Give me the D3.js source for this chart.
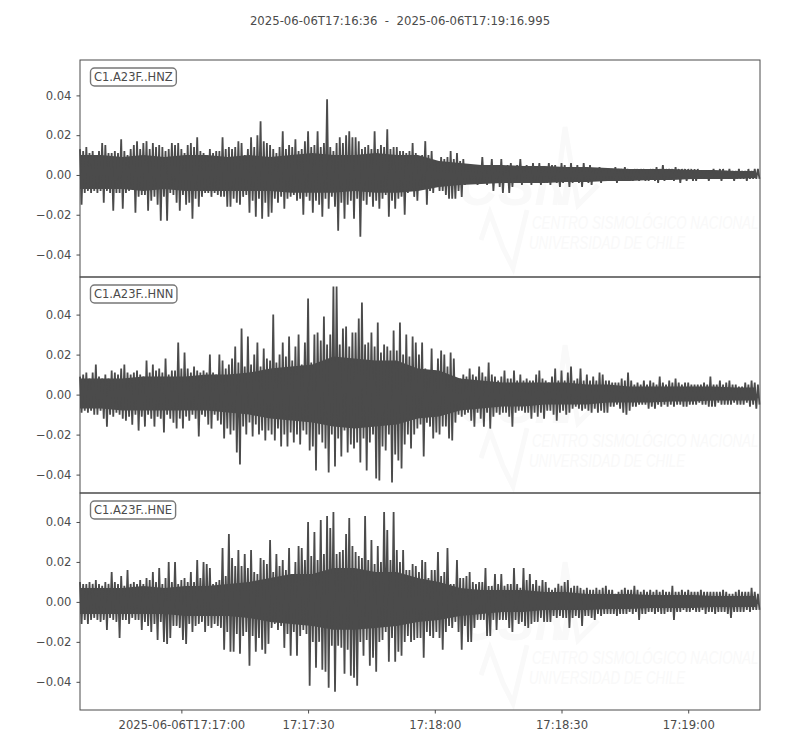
<!DOCTYPE html>
<html>
<head>
<meta charset="utf-8">
<script src="https://cdn.jsdelivr.net/npm/d3@7"></script>
<style>
  html, body { margin: 0; padding: 0; background: #fff; }
  svg { display: block; }
  text { font-family: "DejaVu Sans", sans-serif; }
</style>
</head>
<body>
<div id="chart"></div>
<script>
// peaks, one up/down pair every 0.75 s, unit 1e-3
const hnzUp = [
  13,12,14,11,12,10,12,16,15,11, 11,12,11,18,12,10,13,15,17,13,
  16,17,13,16,14,15,14,12,13,16, 15,16,13,11,15,16,14,19,12,11,
  10,13,11,12,12,19,13,14,13,14, 17,16,10,13,19,14,20,27,17,16,
  15,13,11,14,22,13,15,14,18,12, 13,17,22,14,15,22,14,16,38,14,
  12,16,19,16,20,22,19,19,17,13, 14,15,13,22,13,15,14,23,13,14,
  14,12,12,11,12,16,11,
  8,10,17,10,12,7,7,9,8,9, 12,8,11,7,8,5,5,4,5,4,
  9,4,5,8,4,5,8,4,5,6, 4,5,8,4,5,4,6,4,6,4,
  4,6,5,5,4,6,5,4,6,4, 5,4,6,4,5,3,3,4,3,3,
  3,3,4,3,3,4,3,3,3,3, 3,3,3,3,3,4,3,5,3,3,
  3,4,3,3,3,3,3,3,3,2, 2,2,2,3,2,3,3,2,3,2,
  2,3,2,2,3,2,3,3
];
const hnzLow = [
  -15,-9,-8,-9,-8,-9,-8,-14,-8,-9, -18,-9,-9,-17,-9,-8,-7,-19,-11,-10,
  -10,-18,-13,-11,-15,-23,-11,-23,-9,-10, -14,-18,-10,-15,-14,-22,-12,-16,-11,-9,
  -9,-11,-9,-10,-11,-11,-16,-16,-12,-14, -15,-11,-10,-19,-13,-21,-12,-22,-14,-21,
  -19,-12,-14,-11,-17,-12,-11,-10,-13,-12, -20,-11,-13,-19,-13,-15,-21,-12,-17,-11,
  -16,-28,-14,-22,-15,-13,-22,-12,-31,-13, -15,-11,-16,-13,-17,-12,-10,-21,-13,-17,
  -12,-11,-20,-9,-8,-11,-13,
  -7,-6,-15,-8,-9,-6,-8,-8,-10,-12, -12,-12,-8,-11,-5,-4,-3,-4,-5,-4,
  -4,-5,-4,-8,-4,-6,-9,-4,-9,-6, -3,-4,-5,-3,-4,-5,-4,-3,-5,-3,
  -4,-5,-3,-4,-6,-4,-3,-6,-4,-3, -4,-6,-3,-4,-5,-3,-3,-4,-2,-3,
  -2,-3,-4,-2,-3,-2,-3,-3,-2,-3, -2,-3,-3,-2,-3,-4,-2,-3,-2,-2,
  -3,-2,-4,-2,-3,-2,-3,-3,-2,-2, -2,-3,-2,-2,-2,-3,-2,-2,-2,-3,
  -2,-2,-2,-3,-2,-2,-2,-2
];
const hnnUp = [
  9,10,11,8,11,15,9,8,10,8, 12,11,10,13,15,11,10,11,12,10,
  9,17,11,15,12,13,11,18,10,12, 12,26,13,21,13,11,14,12,11,12,
  11,20,11,10,20,17,13,15,18,24, 16,33,14,29,15,20,26,14,23,18,
  17,40,16,20,26,19,29,17,24,30, 15,26,48,16,30,31,27,39,25,30,
  54,54,25,33,34,24,31,31,38,46, 25,26,31,24,36,21,25,24,22,32,
  22,36,20,30,19,29,26,
  20,26,13,12,23,12,18,22,20,14, 21,18,7,8,10,9,13,10,9,14,
  11,9,16,10,9,7,9,12,8,8, 12,7,10,7,8,7,7,10,12,8,
  7,6,9,13,7,12,7,11,14,7, 8,13,7,10,7,9,7,11,10,7,
  7,6,6,6,8,7,11,7,5,6, 5,7,5,7,6,5,9,6,5,7,
  6,8,6,5,6,6,5,5,5,5, 6,5,9,5,5,7,5,6,7,5,
  5,4,4,6,5,7,6,5
];
const hnnLow = [
  -9,-8,-9,-8,-10,-10,-8,-12,-16,-10, -11,-9,-10,-12,-13,-11,-15,-10,-18,-11,
  -16,-10,-12,-16,-11,-12,-19,-10,-12,-14, -17,-12,-17,-11,-13,-10,-12,-21,-10,-11,
  -15,-17,-10,-13,-15,-22,-17,-20,-18,-29, -35,-16,-20,-14,-21,-15,-20,-18,-23,-18,
  -20,-23,-17,-26,-20,-26,-19,-24,-20,-25, -18,-20,-28,-26,-38,-20,-24,-27,-39,-20,
  -36,-22,-31,-18,-29,-25,-27,-24,-34,-22, -38,-24,-20,-42,-43,-26,-28,-20,-44,-30,
  -33,-37,-25,-20,-27,-20,-17,
  -15,-31,-14,-16,-22,-19,-20,-16,-16,-22, -23,-14,-10,-11,-10,-9,-13,-16,-9,-12,
  -16,-9,-17,-11,-9,-10,-9,-9,-11,-16, -9,-8,-8,-9,-9,-12,-9,-11,-9,-12,
  -8,-8,-10,-13,-9,-8,-10,-9,-7,-6, -7,-8,-7,-8,-9,-7,-9,-8,-9,-9,
  -6,-6,-5,-7,-9,-10,-8,-6,-6,-5, -5,-5,-7,-6,-7,-5,-6,-5,-6,-5,
  -6,-5,-5,-6,-6,-5,-5,-5,-4,-5, -5,-6,-6,-6,-4,-5,-5,-5,-5,-4,
  -5,-5,-5,-4,-6,-5,-7,-5
];
const hneUp = [
  10,9,9,10,9,11,9,8,10,9, 15,10,9,13,8,16,9,10,9,11,
  9,12,11,15,10,17,9,12,20,10, 20,9,11,12,10,15,10,21,12,20,
  19,17,9,10,11,27,13,34,22,18, 26,18,24,17,26,15,14,22,21,19,
  31,15,24,18,21,16,27,14,20,28, 27,21,40,23,35,21,41,24,43,37,
  45,24,25,26,34,42,28,25,23,22, 43,21,31,19,28,20,45,36,21,45,
  26,20,26,16,16,19,18,
  15,21,20,12,16,16,25,13,15,27, 9,9,21,12,12,13,15,10,9,10,
  10,17,8,8,14,9,14,8,9,9, 17,9,7,17,11,14,9,11,8,11,
  10,7,6,7,9,8,10,11,7,8, 8,7,6,7,6,6,7,6,7,8,
  6,6,4,5,6,7,6,6,8,6, 5,6,5,6,5,6,5,6,5,5,
  8,5,5,6,5,6,5,5,5,6, 5,5,5,5,5,5,6,5,4,4,
  5,6,5,5,5,7,5,4
];
const hneLow = [
  -11,-9,-11,-9,-8,-9,-10,-9,-14,-8, -9,-10,-18,-9,-9,-11,-8,-9,-9,-14,
  -10,-12,-15,-11,-19,-10,-20,-21,-18,-12, -12,-13,-19,-21,-11,-15,-12,-11,-10,-15,
  -12,-13,-11,-12,-13,-24,-15,-25,-25,-16, -26,-17,-15,-32,-17,-25,-18,-24,-26,-21,
  -13,-11,-14,-12,-23,-16,-27,-15,-27,-17, -14,-16,-42,-20,-33,-20,-34,-35,-43,-22,
  -45,-22,-23,-36,-24,-37,-38,-42,-20,-27, -19,-32,-28,-35,-20,-19,-15,-30,-18,-30,
  -25,-27,-20,-17,-20,-19,-18,
  -18,-28,-15,-17,-18,-15,-18,-24,-15,-12, -13,-10,-15,-24,-12,-20,-20,-13,-9,-9,
  -9,-17,-17,-9,-14,-9,-9,-9,-13,-15, -9,-11,-10,-12,-13,-11,-10,-10,-8,-10,
  -10,-10,-7,-8,-7,-8,-8,-13,-8,-7, -8,-12,-7,-7,-8,-9,-6,-7,-6,-6,
  -6,-6,-7,-6,-6,-6,-5,-6,-5,-9, -6,-6,-5,-5,-6,-5,-6,-6,-5,-5,
  -9,-5,-5,-4,-5,-5,-4,-5,-5,-4, -6,-5,-5,-6,-5,-5,-5,-6,-8,-5,
  -5,-5,-5,-4,-5,-4,-4,-4
];
// solid middle of each trace, one value every 5 s, unit 1e-3
const hnzCoreUp = [10,10,9,10,9,10,10,9,10,9,10,11,10,10,11,10,10,7,6,5,5,4.5,4.5,4,4,3.5,3,3,3,2.5,2.5,2,2];
const hnzCoreLow = [-7,-7,-7,-8,-7,-8,-8,-8,-8,-8,-9,-9,-9,-8,-9,-9,-8,-6,-5,-4.5,-4,-4,-4,-3.5,-3.5,-3,-3,-2.5,-2.5,-2,-2,-2,-1.5];
const hnnCoreUp = [8,8,8,9,9,9,10,10,11,13,14,15,19,18,17,17,13,12,8,7,6,6,6,6,5,5,4,4,4,4,4,3.5,3.5];
const hnnCoreLow = [-7,-7,-8,-8,-8,-8,-8,-9,-10,-12,-13,-14,-16,-17,-16,-15,-12,-11,-8,-7,-6,-6,-5,-5,-5,-4,-4,-4,-3.5,-3.5,-3,-3,-3];
const hneCoreUp = [7,7,7,8,7,8,8,9,10,12,14,14,17,17,15,15,12,10,7,6,6,6,5,5,4,4,4,3.5,3.5,3.5,3,3,3];
const hneCoreLow = [-6,-6,-6,-6,-6,-7,-7,-7,-8,-10,-11,-12,-14,-14,-13,-12,-10,-9,-7,-6,-5,-5,-4,-4,-4,-3.5,-3.5,-3,-3,-3,-2.5,-2.5,-2.5];

const traceLabels = ['C1.A23F..HNZ', 'C1.A23F..HNN', 'C1.A23F..HNE'];
const yTickValues = [-0.04, -0.02, 0, 0.02, 0.04];
const xTickTimes = ['2025-06-06T17:17:00', '2025-06-06T17:17:30', '2025-06-06T17:18:00', '2025-06-06T17:18:30', '2025-06-06T17:19:00'];
const titleText = '2025-06-06T17:16:36  -  2025-06-06T17:19:16.995';

const ink = '#4b4b4b';
const stepMs = 750;
const coreStepMs = 5000;
const t0 = Date.UTC(2025, 5, 6, 17, 16, 36);
const t1 = t0 + 160995;
const width = 800, height = 750;

const panels = [
  { up: hnzUp, low: hnzLow, coreUp: hnzCoreUp, coreLow: hnzCoreLow, top: 60, bottom: 277, dom: [-0.0513, 0.0578] },
  { up: hnnUp, low: hnnLow, coreUp: hnnCoreUp, coreLow: hnnCoreLow, top: 277, bottom: 493, dom: [-0.0492, 0.0588] },
  { up: hneUp, low: hneLow, coreUp: hneCoreUp, coreLow: hneCoreLow, top: 493, bottom: 710, dom: [-0.0541, 0.0545] }
];

const x = d3.scaleUtc().domain([t0, t1]).range([80, 760]);
const svg = d3.select('#chart').append('svg').attr('width', width).attr('height', height);

svg.append('text')
  .attr('x', 400).attr('y', 25)
  .attr('text-anchor', 'middle')
  .attr('font-size', 11.7)
  .attr('fill', ink)
  .style('white-space', 'pre')
  .text(titleText);

const clean = g => {
  g.select('.domain').remove();
  g.selectAll('.tick line').attr('stroke', ink);
  g.selectAll('.tick text').attr('fill', ink).attr('font-size', 11.6).style('font-family', '"DejaVu Sans"');
};

// faint agency logo, sits behind each trace
const watermark = (g, dy) => {
  const w = g.append('g').attr('transform', `translate(0,${dy})`).attr('fill', '#f9f9f9');
  w.append('text').attr('transform', 'translate(458,205) scale(0.95,1)').attr('font-size', 58).attr('font-weight', 'bold')
    .attr('font-style', 'italic').style('font-family', '"Liberation Sans"').text('CSN');
  w.append('path').attr('fill', 'none').attr('stroke', '#f9f9f9').attr('stroke-width', 5)
    .attr('d', 'M555,205L565,127L578,205L598,185');
  w.append('path').attr('fill', 'none').attr('stroke', '#f9f9f9').attr('stroke-width', 5)
    .attr('d', 'M481,240L490,213L503,248L513,268L527,210');
  w.append('text').attr('transform', 'translate(532,229) scale(0.74,1)').attr('font-size', 18).attr('font-style', 'italic')
    .style('font-family', '"Liberation Sans"').text('CENTRO SISMOLÓGICO NACIONAL');
  w.append('text').attr('transform', 'translate(529,249) scale(0.74,1)').attr('font-size', 18).attr('font-style', 'italic')
    .style('font-family', '"Liberation Sans"').text('UNIVERSIDAD DE CHILE');
};

panels.forEach((p, idx) => {
  const g = svg.append('g');
  const y = d3.scaleLinear().domain(p.dom).range([p.bottom, p.top]);

  g.call(watermark, (p.top - 60) * 1.005);

  const core = d3.area()
    .x((d, i) => x(t0 + i * coreStepMs))
    .y0((d, i) => y(p.coreLow[i] * 1e-3))
    .y1(d => y(d * 1e-3));
  g.append('path').datum(p.coreUp).attr('fill', ink).attr('d', core);

  // zigzag: up peak then down peak half a step later
  const pts = p.up.flatMap((v, i) => [
    [t0 + i * stepMs, v * 1e-3],
    [t0 + (i + 0.5) * stepMs, p.low[i] * 1e-3]
  ]);
  const line = d3.line().x(d => x(d[0])).y(d => y(d[1]));

  g.append('path')
    .datum(pts)
    .attr('fill', 'none')
    .attr('stroke', ink)
    .attr('stroke-width', 1.8)
    .attr('stroke-linejoin', 'bevel')
    .attr('d', line);

  g.append('rect')
    .attr('x', 80).attr('y', p.top)
    .attr('width', 680).attr('height', p.bottom - p.top)
    .attr('fill', 'none').attr('stroke', ink).attr('stroke-width', 1);

  g.append('g')
    .attr('transform', 'translate(80,0)')
    .call(d3.axisLeft(y).tickValues(yTickValues).tickSize(3.5).tickPadding(5)
      .tickFormat(d => d3.format('.2f')(d).replace('-', '−')))
    .call(clean);

  const tag = g.append('g');
  const frame = tag.append('rect');
  const label = tag.append('text')
    .attr('x', 94).attr('y', p.top + 21)
    .attr('font-size', 11.5)
    .attr('fill', ink)
    .text(traceLabels[idx]);
  const box = label.node().getBBox();
  frame
    .attr('x', box.x - 3.5).attr('y', p.top + 8)
    .attr('width', box.width + 7).attr('height', 18)
    .attr('rx', 4)
    .attr('fill', '#fff').attr('stroke', '#777').attr('stroke-width', 1.4);

  if (idx === 2) {
    g.append('g')
      .attr('transform', `translate(0,${p.bottom})`)
      .call(d3.axisBottom(x).tickValues(xTickTimes.map(s => new Date(s + 'Z'))).tickSize(3.5).tickPadding(7.5)
        .tickFormat((d, i) => i === 0 ? xTickTimes[0] : xTickTimes[i].slice(11)))
      .call(clean);
  }
});
</script>
</body>
</html>
